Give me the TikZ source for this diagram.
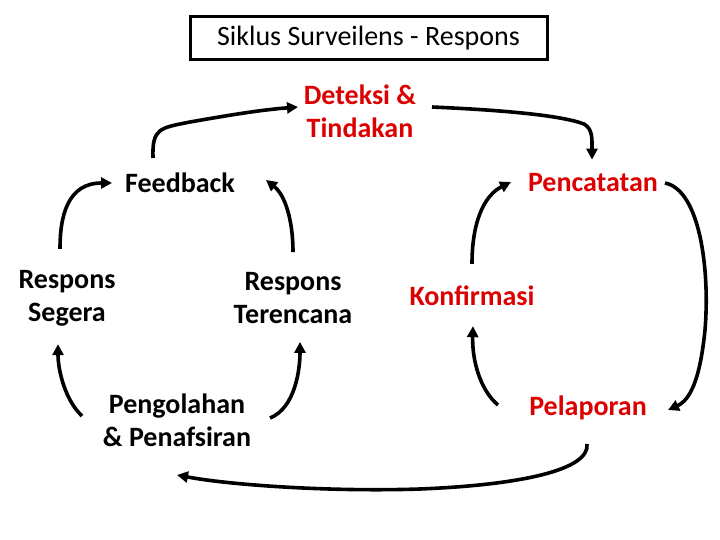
\documentclass[tikz,border=0pt]{standalone}
\usepackage{fontspec}
\setmainfont{Carlito}
\usetikzlibrary{arrows.meta}
\definecolor{redtxt}{RGB}{220,0,0}
\tikzset{
  lbl/.style={font=\bfseries\fontsize{28}{33}\selectfont, align=center, inner sep=0pt},
  redlbl/.style={lbl, text=redtxt},
  arr/.style={line width=3.6pt, -{Triangle[length=11pt,width=11pt]}},
}
\begin{document}
\begin{tikzpicture}[x=1pt,y=-1pt]
\useasboundingbox (0,0) rectangle (720,540);
\node[draw, line width=3pt, minimum width=357pt, minimum height=43pt, font=\fontsize{28}{33}\selectfont] (title) at (368.5,38.5) {Siklus Surveilens - Respons};
\node[redlbl] (det) at (360,111) {Deteksi \&\\Tindakan};
\node[redlbl] (pen) at (593,183) {Pencatatan};
\node[redlbl] (kon) at (472,296) {Konfirmasi};
\node[redlbl] (pel) at (588,408) {Pelaporan};
\node[lbl] (feed) at (180,183) {Feedback};
\node[lbl] (seg) at (67,298) {Respons\\Segera};
\node[lbl] (ter) at (293,298) {Respons\\Terencana};
\node[lbl] (peng) at (177,420) {Pengolahan\\\& Penafsiran};
% feedback -> deteksi
\draw[arr] ([shift={(-27,-25)}]feed.center) .. controls (152,128) and (160,128) .. (190,122) .. controls (230,115) and (260,110) .. ([shift={(-62,-4)}]det.center);
% deteksi -> pencatatan
\draw[arr] ([shift={(72,-4)}]det.center) .. controls (500,110) and (560,115) .. (584,124) .. controls (593,129) and (592,140) .. ([shift={(-1,-14)}]pen.north);
% pencatatan -> pelaporan
\draw[arr] ([shift={(72,0)}]pen.center) .. controls (700,190) and (710,270) .. (705,330) .. controls (700,380) and (690,400) .. ([shift={(80,2)}]pel.center);
% pelaporan -> konfirmasi
\draw[arr] ([shift={(-90,-3)}]pel.center) .. controls (480,390) and (472,360) .. ([shift={(1,20)}]kon.south);
% konfirmasi -> pencatatan
\draw[arr] ([shift={(0,-22)}]kon.north) .. controls (472,220) and (485,195) .. ([shift={(-82,-1)}]pen.center);
% pelaporan -> pengolahan
\draw[arr] ([shift={(-1,36)}]pel.center) .. controls (590,470) and (520,485) .. (420,489) .. controls (330,492) and (230,485) .. ([shift={(0,55)}]peng.center);
% pengolahan -> segera
\draw[arr] ([shift={(-95,-4)}]peng.center) .. controls (65,400) and (58,370) .. ([shift={(-9,18)}]seg.south);
% pengolahan -> terencana
\draw[arr] ([shift={(93,-2)}]peng.center) .. controls (295,408) and (300,370) .. ([shift={(7,18)}]ter.south);
% terencana -> feedback
\draw[arr] ([shift={(0,-20)}]ter.north) .. controls (293,220) and (285,195) .. ([shift={(86,-3)}]feed.center);
% segera -> feedback
\draw[arr] ([shift={(-7,-21)}]seg.north) .. controls (60,215) and (68,183) .. ([shift={(-68,0)}]feed.center);
\end{tikzpicture}
\end{document}
